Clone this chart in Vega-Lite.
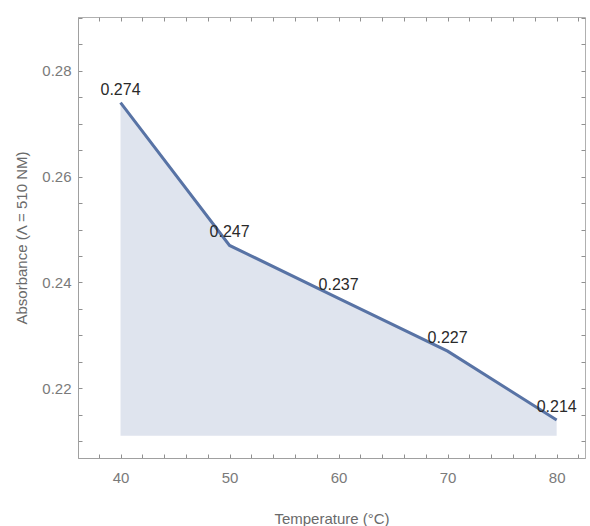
{
  "$schema": "https://vega.github.io/schema/vega-lite/v6.json",
  "autosize": {"type": "none"},
  "padding": {"left": 78, "top": 17, "right": 5, "bottom": 68},
  "width": 507,
  "height": 441,
  "background": "white",
  "config": {
    "view": {"stroke": "#b0b0b0", "strokeWidth": 1},
    "axis": {
      "labelFont": "Liberation Sans",
      "titleFont": "Liberation Sans",
      "labelColor": "#7a7a7a",
      "titleColor": "#6a6a6a",
      "labelFontSize": 15,
      "titleFontSize": 15,
      "titleFontWeight": "normal",
      "domainColor": "#a0a0a0",
      "tickColor": "#909090",
      "grid": false,
      "labelOverlap": false
    }
  },
  "data": {
    "values": [
      {"t": 40, "a": 0.274},
      {"t": 50, "a": 0.247},
      {"t": 60, "a": 0.237},
      {"t": 70, "a": 0.227},
      {"t": 80, "a": 0.214}
    ]
  },
  "resolve": {"axis": {"x": "independent", "y": "independent"}},
  "layer": [
    {
      "mark": {"type": "area", "color": "#dfe4ee", "opacity": 1},
      "encoding": {
        "x": {
          "field": "t", "type": "quantitative",
          "scale": {"domain": [36.1, 82.6], "nice": false, "zero": false},
          "axis": {
            "orient": "bottom",
            "title": "Temperature (°C)",
            "values": [36,38,40,42,44,46,48,50,52,54,56,58,60,62,64,66,68,70,72,74,76,78,80,82],
            "labelExpr": "datum.value % 10 === 0 ? datum.label : ''",
            "tickSize": -4,
            "labelPadding": 16,
            "titlePadding": 26
          }
        },
        "y": {
          "field": "a", "type": "quantitative",
          "scale": {"domain": [0.2068, 0.2902], "nice": false, "zero": false},
          "axis": {
            "orient": "left",
            "title": "Absorbance (Λ = 510 NM)",
            "values": [0.21,0.215,0.22,0.225,0.23,0.235,0.24,0.245,0.25,0.255,0.26,0.265,0.27,0.275,0.28,0.285,0.29],
            "labelExpr": "abs(datum.value*50 - round(datum.value*50)) < 1e-6 ? format(datum.value, '.2f') : ''",
            "tickSize": -4,
            "labelPadding": 11,
            "titlePadding": 12
          }
        },
        "y2": {"datum": 0.211}
      }
    },
    {
      "mark": {"type": "line", "color": "#5873a5", "strokeWidth": 3},
      "encoding": {
        "x": {
          "field": "t", "type": "quantitative",
          "axis": {
            "orient": "top", "title": null, "labels": false, "domain": false,
            "values": [36,38,40,42,44,46,48,50,52,54,56,58,60,62,64,66,68,70,72,74,76,78,80,82],
            "tickSize": -4
          }
        },
        "y": {
          "field": "a", "type": "quantitative",
          "axis": {
            "orient": "right", "title": null, "labels": false, "domain": false,
            "values": [0.21,0.215,0.22,0.225,0.23,0.235,0.24,0.245,0.25,0.255,0.26,0.265,0.27,0.275,0.28,0.285,0.29],
            "tickSize": -4
          }
        }
      }
    },
    {
      "mark": {"type": "text", "font": "Liberation Sans", "fontSize": 16, "color": "#2a2a2a", "baseline": "alphabetic", "dy": -8, "align": "center"},
      "encoding": {
        "x": {"field": "t", "type": "quantitative", "axis": null},
        "y": {"field": "a", "type": "quantitative", "axis": null},
        "text": {"field": "a", "type": "quantitative", "format": ".3f"}
      }
    }
  ]
}
